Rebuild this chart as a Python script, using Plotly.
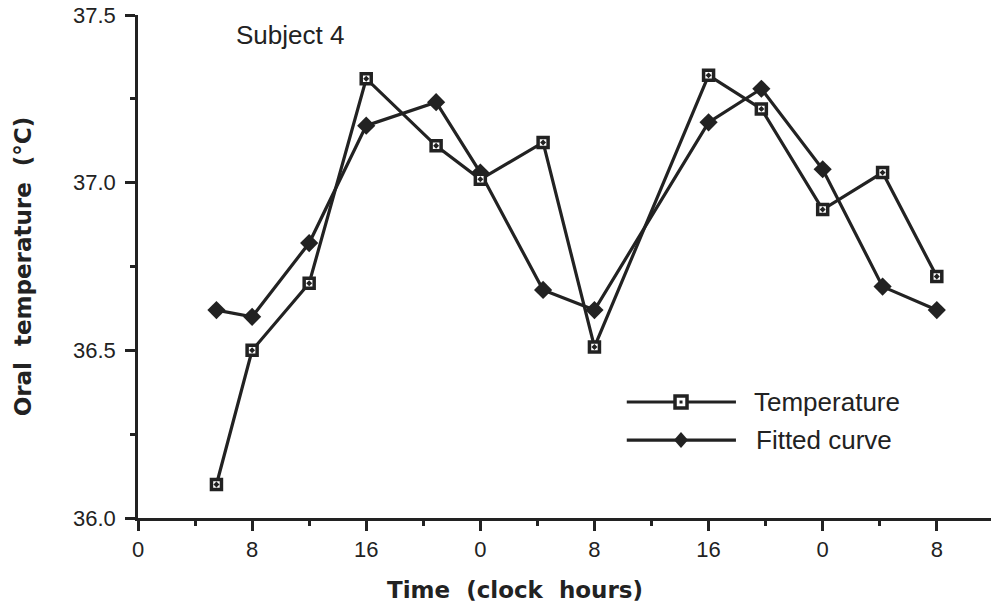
import plotly.graph_objects as go

# ---- data ----
hours = [5.5, 8, 12, 16, 20.9, 24, 28.4, 32, 40, 43.7, 48, 52.2, 56]
temperature = [36.10, 36.50, 36.70, 37.31, 37.11, 37.01, 37.12, 36.51,
               37.32, 37.22, 36.92, 37.03, 36.72]
fitted = [36.62, 36.60, 36.82, 37.17, 37.24, 37.03, 36.68, 36.62,
          37.18, 37.28, 37.04, 36.69, 36.62]

x_tickvals = [0, 8, 16, 24, 32, 40, 48, 56]
x_ticktext = ["0", "8", "16", "0", "8", "16", "0", "8"]
x_minor = [4, 12, 20, 28, 36, 44, 52]
y_tickvals = [36.0, 36.5, 37.0, 37.5]
y_ticktext = ["36.0", "36.5", "37.0", "37.5"]
y_minor = [36.25, 36.75, 37.25]

INK = "#222222"
FONT = "Liberation Sans"
BOLD = "DejaVu Sans"

fig = go.Figure()
fig.add_trace(go.Scatter(
    x=hours, y=fitted, mode="lines+markers", name="Fitted curve",
    line=dict(color=INK, width=3.2),
    marker=dict(symbol="diamond", size=14, color=INK, line=dict(width=0)),
    showlegend=False))
fig.add_trace(go.Scatter(
    x=hours, y=temperature, mode="lines+markers", name="Temperature",
    line=dict(color=INK, width=3.2),
    marker=dict(symbol="square-dot", size=10, color="white",
                line=dict(color=INK, width=3.5)),
    showlegend=False))

# ---- manual legend (long line samples as in the reference) ----
L0, L1, LM = 0.573, 0.701, 0.6366
Y1, Y2 = 0.2306, 0.155
shapes = [
    dict(type="line", xref="paper", yref="paper", x0=L0, x1=L1, y0=Y1, y1=Y1,
         line=dict(color=INK, width=3.2)),
    dict(type="line", xref="paper", yref="paper", x0=L0, x1=L1, y0=Y2, y1=Y2,
         line=dict(color=INK, width=3.2)),
    dict(type="rect", xref="paper", yref="paper", xsizemode="pixel", ysizemode="pixel",
         xanchor=LM, yanchor=Y1, x0=-6, x1=6, y0=-6, y1=6,
         fillcolor="white", line=dict(color=INK, width=3.5)),
    dict(type="rect", xref="paper", yref="paper", xsizemode="pixel", ysizemode="pixel",
         xanchor=LM, yanchor=Y1, x0=-1.5, x1=1.5, y0=-1.5, y1=1.5,
         fillcolor=INK, line=dict(width=0)),
    dict(type="path", xref="paper", yref="paper", xsizemode="pixel", ysizemode="pixel",
         xanchor=LM, yanchor=Y2, path="M 0 8 L 7 0 L 0 -8 L -7 0 Z",
         fillcolor=INK, line=dict(width=0)),
]

annotations = [
    dict(text="Temperature", xref="paper", yref="paper", x=0.720, y=Y1,
         xanchor="left", yanchor="middle", showarrow=False,
         font=dict(family=FONT, size=26, color=INK)),
    dict(text="Fitted curve", xref="paper", yref="paper", x=0.722, y=Y2,
         xanchor="left", yanchor="middle", showarrow=False,
         font=dict(family=FONT, size=26, color=INK)),
    dict(text="Subject 4", xref="paper", yref="paper", x=0.1125, y=0.960,
         xanchor="left", yanchor="middle", showarrow=False,
         font=dict(family=FONT, size=26, color=INK)),
    dict(text="Oral  temperature  (°C)", xref="paper", yref="paper", x=-0.135, y=0.5,
         xanchor="center", yanchor="middle", textangle=-90, showarrow=False,
         font=dict(family=BOLD, size=23, color=INK, weight="bold")),
    dict(text="Time  (clock  hours)", xref="paper", yref="paper", x=0.442, y=-0.143,
         xanchor="center", yanchor="middle", showarrow=False,
         font=dict(family=BOLD, size=23, color=INK, weight="bold")),
]

fig.update_layout(
    width=991, height=611,
    margin=dict(l=138, r=0, t=15, b=93),
    paper_bgcolor="white", plot_bgcolor="white",
    shapes=shapes, annotations=annotations,
    showlegend=False,
    xaxis=dict(range=[0, 59.8], tickvals=x_tickvals, ticktext=x_ticktext,
               ticks="outside", ticklen=10, tickwidth=2.5, tickcolor=INK,
               showline=True, linewidth=2.5, linecolor=INK,
               showgrid=False, zeroline=False, ticklabelstandoff=0,
               tickfont=dict(family=FONT, size=22, color=INK),
               minor=dict(tickvals=x_minor, ticks="outside", ticklen=5,
                          tickwidth=2.5, tickcolor=INK)),
    yaxis=dict(range=[36.0, 37.5], tickvals=y_tickvals, ticktext=y_ticktext,
               ticks="outside", ticklen=10, tickwidth=2.5, tickcolor=INK,
               showline=True, linewidth=2.5, linecolor=INK,
               showgrid=False, zeroline=False, ticklabelstandoff=5,
               tickfont=dict(family=FONT, size=22, color=INK),
               minor=dict(tickvals=y_minor, ticks="outside", ticklen=5,
                          tickwidth=2.5, tickcolor=INK)),
)

fig.write_html("out.html",
               config={"displayModeBar": False},
               post_script="document.body.style.margin='0';document.body.style.overflow='hidden';")
